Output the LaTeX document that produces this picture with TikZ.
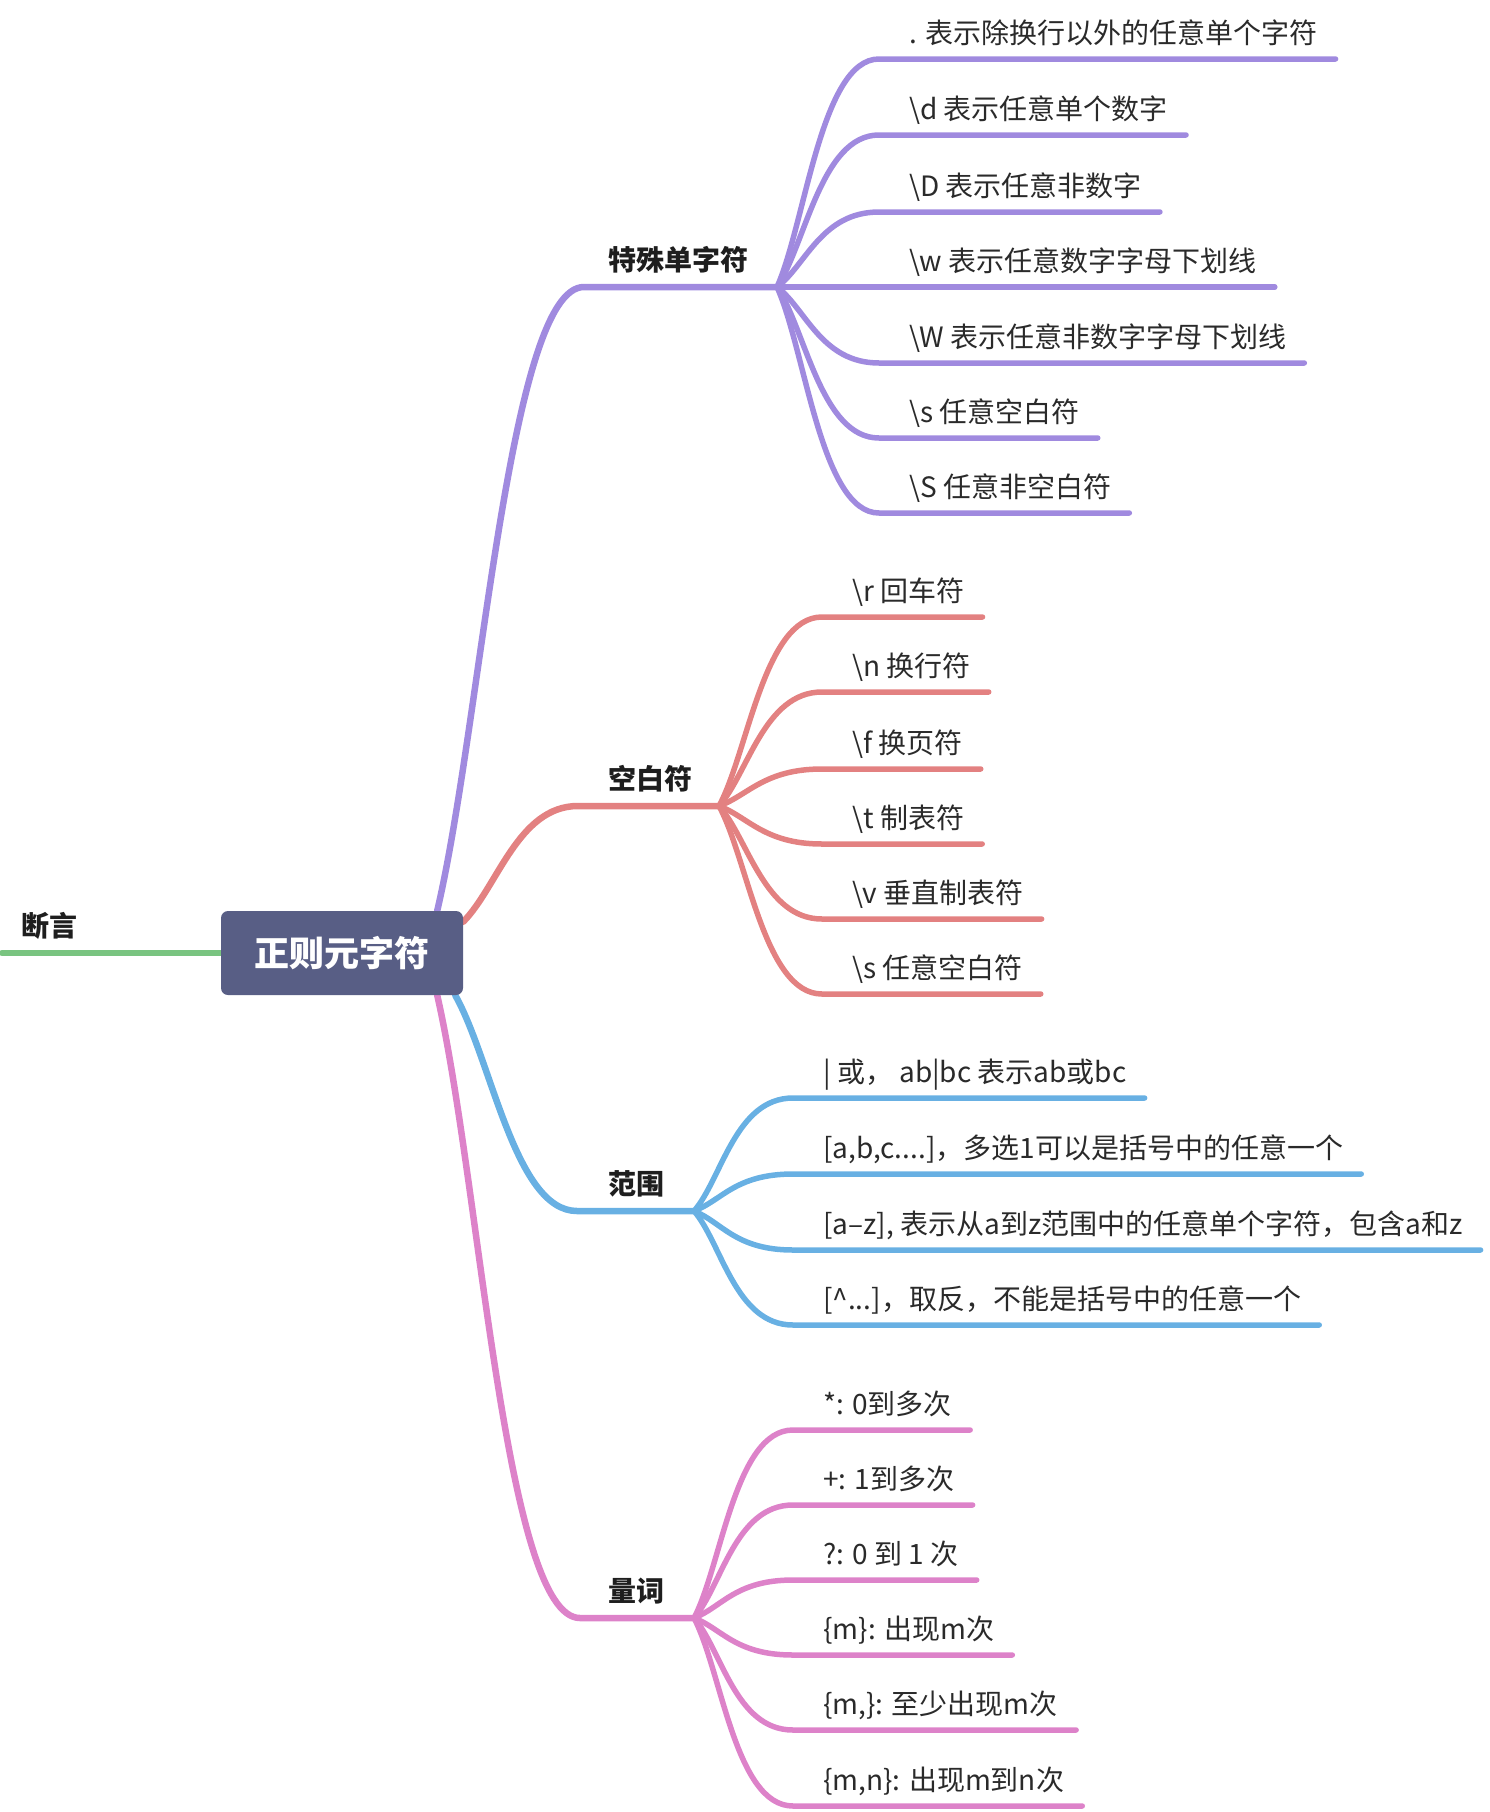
\documentclass[tikz,border=0pt]{standalone}
\usepackage{fontspec}
\setmainfont{Noto Sans CJK SC}
\usetikzlibrary{calc}
\pgfdeclarelayer{bg}
\pgfsetlayers{bg,main}
\definecolor{purp}{HTML}{A08ADF}
\definecolor{redc}{HTML}{E38181}
\definecolor{bluec}{HTML}{68B0E3}
\definecolor{pinkc}{HTML}{DD82C9}
\definecolor{greenc}{HTML}{79C480}
\definecolor{rootc}{HTML}{585E85}
\definecolor{txt}{HTML}{2A2A2A}
\definecolor{txtdark}{HTML}{1E1E1E}
\tikzset{
  kidtext/.style={anchor=base west, inner sep=0pt, font=\fontsize{28}{32}\selectfont, text=txt},
  branchtext/.style={anchor=base west, inner sep=0pt, font=\fontsize{28}{32}\selectfont\bfseries, text=txtdark},
  rootbox/.style={fill=rootc, rounded corners=7pt, minimum width=242pt, minimum height=84pt, inner sep=0pt, text=white, font=\fontsize{35}{40}\selectfont\bfseries},
  mainline/.style={line width=6.5pt, line cap=round},
  kidline/.style={line width=5.5pt, line cap=round},
}
% #1 colour, #2 hub, #3 name, #4 text x, #5 line y, #6 text
\newcommand\mmleaf[6]{%
  \node[kidtext] (#3) at (#4,#5-16) {#6};
  \coordinate (#3s) at (#4-30,#5);
  \draw[kidline,#1] (#2) .. controls ($(#2)!0.28!(#3s)$) and ($(#3s)+(-58,0)$) .. (#3s) -- ($(#3.base east |- #3s)+(18,0)$);
}
% #1 colour, #2 start, #3 branch start, #4 hub, #5 pull
\newcommand\mmbranch[5]{%
  \begin{pgfonlayer}{bg}
  \draw[mainline,#1] (#2) .. controls ($(#2)!0.3!(#3)$) and ($(#3)+(-#5,0)$) .. (#3) -- (#4);
  \end{pgfonlayer}
}
\begin{document}
\begin{tikzpicture}[x=1pt,y=-1pt]
\useasboundingbox (0,0) rectangle (1490,1812);
\node[rootbox] (root) at (342,953) {正则元字符};

% left: 断言
\node[branchtext] (dy) at (21,936) {断言};
\coordinate (dyend) at (2,953);
\begin{pgfonlayer}{bg}
\draw[mainline,greenc] (root.west) -- (dyend);
\end{pgfonlayer}

% branch starts on the root
\coordinate (r1) at ([xshift=-26pt]root.north east);
\coordinate (r2) at ([yshift=-11pt]root.north east);
\coordinate (r3) at ([xshift=-8pt]root.south east);
\coordinate (r4) at ([xshift=-26pt]root.south east);

% branch 1
\node[branchtext] (b1) at (608,270) {特殊单字符};
\coordinate (e1) at (584,287);
\coordinate (h1) at (777,287);
\mmbranch{purp}{r1}{e1}{h1}{75}
% branch 2
\node[branchtext] (b2) at (608,789) {空白符};
\coordinate (e2) at (578,806);
\coordinate (h2) at (719,806);
\mmbranch{redc}{r2}{e2}{h2}{60}
% branch 3
\node[branchtext] (b3) at (608,1194) {范围};
\coordinate (e3) at (577,1211);
\coordinate (h3) at (694,1211);
\mmbranch{bluec}{r3}{e3}{h3}{62}
% branch 4
\node[branchtext] (b4) at (608,1601) {量词};
\coordinate (e4) at (580,1618);
\coordinate (h4) at (694,1618);
\mmbranch{pinkc}{r4}{e4}{h4}{75}

% purple leaves
\mmleaf{purp}{h1}{p1}{909}{59}{. 表示除换行以外的任意单个字符}
\mmleaf{purp}{h1}{p2}{909}{135}{\textbackslash d 表示任意单个数字}
\mmleaf{purp}{h1}{p3}{909}{212}{\textbackslash D 表示任意非数字}
\mmleaf{purp}{h1}{p4}{909}{287}{\textbackslash w 表示任意数字字母下划线}
\mmleaf{purp}{h1}{p5}{909}{363}{\textbackslash W 表示任意非数字字母下划线}
\mmleaf{purp}{h1}{p6}{909}{438}{\textbackslash s 任意空白符}
\mmleaf{purp}{h1}{p7}{909}{513}{\textbackslash S 任意非空白符}

% red leaves
\mmleaf{redc}{h2}{q1}{852}{617}{\textbackslash r 回车符}
\mmleaf{redc}{h2}{q2}{852}{692}{\textbackslash n 换行符}
\mmleaf{redc}{h2}{q3}{852}{769}{\textbackslash f 换页符}
\mmleaf{redc}{h2}{q4}{852}{844}{\textbackslash t 制表符}
\mmleaf{redc}{h2}{q5}{852}{919}{\textbackslash v 垂直制表符}
\mmleaf{redc}{h2}{q6}{852}{994}{\textbackslash s 任意空白符}

% blue leaves
\mmleaf{bluec}{h3}{u1}{823}{1098}{| 或， ab|bc 表示ab或bc}
\mmleaf{bluec}{h3}{u2}{823}{1174}{[a,b,c....]，多选1可以是括号中的任意一个}
\mmleaf{bluec}{h3}{u3}{823}{1250}{[a–z], 表示从a到z范围中的任意单个字符，包含a和z}
\mmleaf{bluec}{h3}{u4}{823}{1325}{[\textasciicircum...]，取反，不能是括号中的任意一个}

% pink leaves
\mmleaf{pinkc}{h4}{k1}{823}{1430}{*: 0到多次}
\mmleaf{pinkc}{h4}{k2}{823}{1505}{+: 1到多次}
\mmleaf{pinkc}{h4}{k3}{823}{1580}{?: 0 到 1 次}
\mmleaf{pinkc}{h4}{k4}{823}{1655}{\{m\}: 出现m次}
\mmleaf{pinkc}{h4}{k5}{823}{1730}{\{m,\}: 至少出现m次}
\mmleaf{pinkc}{h4}{k6}{823}{1806}{\{m,n\}: 出现m到n次}
\end{tikzpicture}
\end{document}
